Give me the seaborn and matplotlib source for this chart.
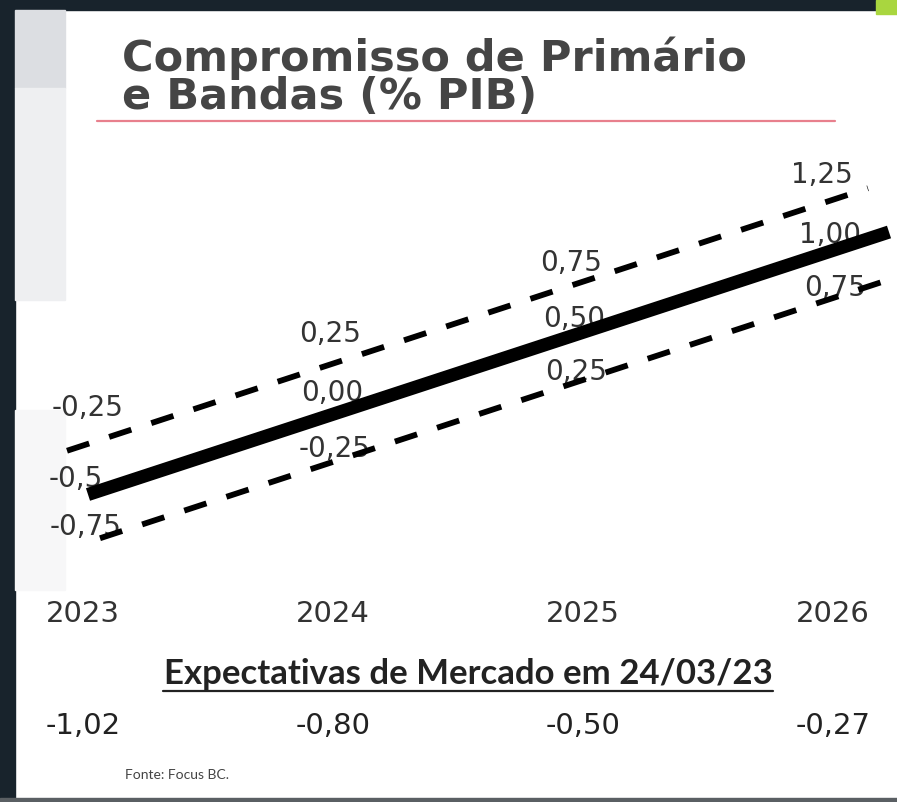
import numpy as np
import pandas as pd
import matplotlib
matplotlib.use('Agg')
import matplotlib.pyplot as plt
import matplotlib.transforms as mtransforms
from matplotlib.patches import Rectangle
from matplotlib.lines import Line2D
import seaborn as sns

## data
anos = ['2023', '2024', '2025', '2026']
meta = [-0.5, 0.0, 0.5, 1.0]
banda_sup = [-0.25, 0.25, 0.75, 1.25]
banda_inf = [-0.75, -0.25, 0.25, 0.75]
meta_labels = ['-0,5', '0,00', '0,50', '1,00']
expectativas = [-1.02, -0.80, -0.50, -0.27]

def fmt(v):
    return f'{v:.2f}'.replace('.', ',')

W, H = 897, 802
fig = plt.figure(figsize=(W / 100, H / 100), dpi=100)
sns.set_style('white')
plt.rcParams['font.family'] = ['DejaVu Sans']

def fx(px):
    return px / W

def fy(py):
    return 1 - py / H

## frame / background pieces (screenshot look)
dark = '#18232c'
fig.patch.set_facecolor('white')
fig.add_artist(Rectangle((0, fy(10)), 1, 10 / H, transform=fig.transFigure, color=dark, zorder=0))
fig.add_artist(Rectangle((fx(876), fy(14)), 21 / W, 14 / H, transform=fig.transFigure, color='#a9d63f', zorder=0))
fig.add_artist(Rectangle((0, 0), fx(15), 1, transform=fig.transFigure, color=dark, zorder=0))
fig.add_artist(Rectangle((fx(15), fy(88)), 50 / W, 78 / H, transform=fig.transFigure, color='#dcdee2', zorder=0))
fig.add_artist(Rectangle((fx(15), fy(300)), 50 / W, 212 / H, transform=fig.transFigure, color='#eeeff1', zorder=0))
fig.add_artist(Rectangle((fx(15), fy(590)), 50 / W, 180 / H, transform=fig.transFigure, color='#f7f7f8', zorder=0))
fig.add_artist(Rectangle((0, 0), 1, 4 / H, transform=fig.transFigure, color='#5a5f63', zorder=0))

## title
fig.text(fx(122), fy(58), 'Compromisso de Primário', fontsize=31, fontweight='bold',
         color='#454545', va='center', ha='left')
fig.text(fx(122), fy(97), 'e Bandas (% PIB)', fontsize=31, fontweight='bold',
         color='#454545', va='center', ha='left')
fig.add_artist(Line2D([fx(97), fx(835)], [fy(121), fy(121)], transform=fig.transFigure,
                      color='#e8808d', lw=1.6))

## main chart axes (index 0..3 for the years)
ax = fig.add_axes([0, 0, 1, 1])
ax.patch.set_alpha(0)

df = pd.DataFrame({
    'idx': list(range(4)) * 3,
    'valor': banda_sup + meta + banda_inf,
    'serie': ['sup'] * 4 + ['meta'] * 4 + ['inf'] * 4,
})
sns.lineplot(data=df, x='idx', y='valor', hue='serie', style='serie', size='serie',
             palette={'sup': 'black', 'meta': 'black', 'inf': 'black'},
             dashes={'sup': (4.0, 3.6), 'meta': '', 'inf': (4.0, 3.6)},
             sizes={'sup': 4.2, 'meta': 9.5, 'inf': 4.2},
             legend=False, ax=ax, zorder=3)
ax.set_xlim(-88 / 267, (W - 88) / 267)
ax.set_ylim((407 - H) / 175, 407 / 175)
ax.axis('off')

# bands are drawn a bit shifted sideways, like in the slide
shift_px = {'sup': -21, 'meta': 0, 'inf': 12}
trans = {k: ax.transData + mtransforms.ScaledTranslation(v / 100, 0, fig.dpi_scale_trans)
         for k, v in shift_px.items()}
for line, key in zip(ax.lines, ['sup', 'meta', 'inf']):
    line.set_transform(trans[key])
    line.set_solid_capstyle('butt')

## value labels
offsets = {
    'sup': [(21, 43), (-4, 29), (-30, 13), (-46, 13)],
    'meta': [(-12, 15), (-23, 14), (-48, 1), (-59, -3)],
    'inf': [(-14, 11), (-32, 2), (-58, -9), (-66, -12)],
}
series = {
    'sup': (banda_sup, [fmt(v) for v in banda_sup]),
    'meta': (meta, meta_labels),
    'inf': (banda_inf, [fmt(v) for v in banda_inf]),
}
for key, (vals, labs) in series.items():
    for i, (v, lab) in enumerate(zip(vals, labs)):
        ax.annotate(lab, xy=(i, v), xycoords=trans[key], xytext=offsets[key][i],
                    textcoords='offset pixels', ha='center', va='center',
                    fontsize=20, color='#333333', zorder=1)

## year / expectations rows
ax2 = fig.add_axes([0, 0, 1, 1])
ax2.patch.set_alpha(0)
ax2.set_xlim(-83 / 250, (W - 83) / 250)
ax2.set_ylim((H - 614) / 112, -614 / 112)
ax2.axis('off')
for i, ano in enumerate(anos):
    ax2.text(i, 0, ano, ha='center', va='center', fontsize=21, color='#333333')
for i, v in enumerate(expectativas):
    ax2.text(i, 1, fmt(v), ha='center', va='center', fontsize=21, color='#222222')

fig.text(fx(468), fy(674), 'Expectativas de Mercado em 24/03/23', ha='center', va='center',
         fontsize=25, fontweight='bold', color='#222222', family='Lato')
fig.add_artist(Line2D([fx(163), fx(773)], [fy(691), fy(691)], transform=fig.transFigure,
                      color='#222222', lw=1.6))
fig.text(fx(125), fy(775), 'Fonte: Focus BC.', ha='left', va='center', fontsize=10,
         color='#444444', family='Lato')

fig.savefig('out.png', dpi=100)
